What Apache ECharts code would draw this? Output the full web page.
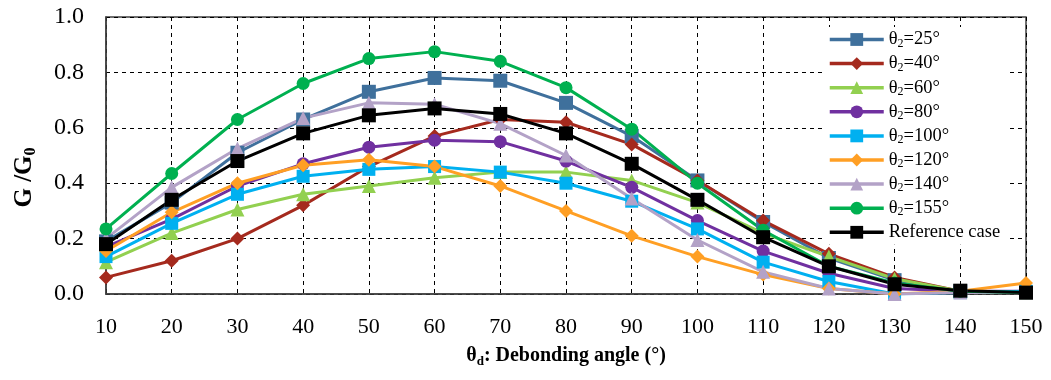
<!DOCTYPE html>
<html>
<head>
<meta charset="utf-8">
<script src="https://cdn.jsdelivr.net/npm/echarts@6/dist/echarts.min.js"></script>
<style>html,body{margin:0;padding:0;background:#fff}#c{width:1051px;height:380px}</style>
</head>
<body>
<div id="c"></div>
<script>
var angles = [10,20,30,40,50,60,70,80,90,100,110,120,130,140,150];
var yTicks = [0,0.2,0.4,0.6,0.8,1.0];
var s25  = [0.19,0.33,0.51,0.63,0.73,0.78,0.77,0.69,0.57,0.41,0.26,0.13,0.05,0.01,0.005];
var s40  = [0.06,0.12,0.20,0.32,0.46,0.57,0.63,0.62,0.54,0.41,0.265,0.145,0.06,0.01,0.005];
var s60  = [0.115,0.22,0.305,0.36,0.39,0.42,0.44,0.44,0.41,0.33,0.22,0.135,0.055,0.01,0.005];
var s80  = [0.17,0.27,0.39,0.47,0.53,0.555,0.55,0.48,0.385,0.265,0.155,0.075,0.02,0.01,0.01];
var s100 = [0.135,0.255,0.36,0.425,0.45,0.46,0.44,0.40,0.335,0.235,0.115,0.045,0.0,0.005,0.01];
var s120 = [0.155,0.295,0.40,0.465,0.485,0.46,0.39,0.30,0.21,0.135,0.07,0.02,0.0,0.01,0.04];
var s140 = [0.20,0.385,0.525,0.635,0.69,0.685,0.615,0.50,0.345,0.195,0.08,0.02,0.0,0.005,0.005];
var s155 = [0.235,0.435,0.63,0.76,0.85,0.875,0.84,0.745,0.595,0.40,0.23,0.10,0.04,0.01,0.005];
var sRef = [0.18,0.34,0.48,0.58,0.645,0.67,0.65,0.58,0.47,0.34,0.205,0.10,0.035,0.012,0.005];

var F = '"Liberation Serif","Times New Roman",serif';
var defs = [
  {n:'θ2=25°',  d:s25,  c:'#3F709C', sym:'rect',     sz:14},
  {n:'θ2=40°',  d:s40,  c:'#A52A1E', sym:'diamond',  sz:14},
  {n:'θ2=60°',  d:s60,  c:'#92D050', sym:'triangle', sz:14},
  {n:'θ2=80°',  d:s80,  c:'#7030A0', sym:'circle',   sz:13},
  {n:'θ2=100°', d:s100, c:'#00B0F0', sym:'rect',     sz:13},
  {n:'θ2=120°', d:s120, c:'#FF9F24', sym:'diamond',  sz:14},
  {n:'θ2=140°', d:s140, c:'#B3A2C7', sym:'triangle', sz:14},
  {n:'θ2=155°', d:s155, c:'#00B050', sym:'circle',   sz:13},
  {n:'Reference case', d:sRef, c:'#000000', sym:'rect', sz:14}
];
var series = defs.map(function(s){
  return {
    name: s.n, type:'line', symbol:s.sym, symbolSize:s.sz,
    data: angles.map(function(a,i){return [a, s.d[i]];}),
    lineStyle:{color:s.c, width:3}, itemStyle:{color:s.c},
    emphasis:{disabled:true}
  };
});
var chart = echarts.init(document.getElementById('c'));
chart.setOption({
  animation:false,
  grid:{left:106, right:25, top:17, bottom:86, outerBoundsMode:'none', containLabel:false,
        show:true, borderColor:'#404040', borderWidth:1.5, backgroundColor:'transparent'},
  legend:{
    orient:'vertical', left:822, top:27, itemWidth:54, itemHeight:16, itemGap:4.6,
    padding:[3,6,3,6], backgroundColor:'#ffffff',
    lineStyle:{width:3.5},
    data: defs.map(function(s){return s.n;}),
    formatter:function(name){
      if(name.indexOf('θ2')===0){ return '{n|θ}{s|2}{n|' + name.slice(2) + '}'; }
      return '{n|' + name + '}';
    },
    textStyle:{
      rich:{
        n:{fontFamily:F, fontSize:18.5, color:'#000', lineHeight:20},
        s:{fontFamily:F, fontSize:12, color:'#000', lineHeight:8, verticalAlign:'bottom'}
      }
    }
  },
  xAxis:{
    type:'value', min:10, max:150, interval:10,
    name:'{b|θ}{s|d}{b|: Debonding angle (°)}', nameLocation:'middle', nameGap:50,
    nameTextStyle:{rich:{
      b:{fontFamily:F, fontWeight:'bold', fontSize:20, color:'#000', lineHeight:24},
      s:{fontFamily:F, fontWeight:'bold', fontSize:13, color:'#000', lineHeight:9, verticalAlign:'bottom'}
    }},
    axisLine:{show:true, lineStyle:{color:'#404040', width:1.5}},
    axisTick:{show:false},
    axisLabel:{fontFamily:F, fontSize:22, color:'#000', margin:22},
    splitLine:{show:true, lineStyle:{color:'#000', type:[4,4], width:1}}
  },
  yAxis:{
    type:'value', min:yTicks[0], max:yTicks[yTicks.length-1], interval:0.2,
    name:'{b|G /G}{s|0}', nameLocation:'middle', nameGap:67,
    nameTextStyle:{padding:[0,44,0,0], rich:{
      b:{fontFamily:F, fontWeight:'bold', fontSize:25, color:'#000', lineHeight:28},
      s:{fontFamily:F, fontWeight:'bold', fontSize:16, color:'#000', lineHeight:10, verticalAlign:'bottom'}
    }},
    axisLine:{show:true, lineStyle:{color:'#404040', width:1.5}},
    axisTick:{show:false},
    axisLabel:{fontFamily:F, fontSize:24, color:'#000', margin:22, formatter:function(v){return v.toFixed(1);}},
    splitLine:{show:true, lineStyle:{color:'#000', type:[4,4], width:1}}
  },
  series: series
});
</script>
</body>
</html>
